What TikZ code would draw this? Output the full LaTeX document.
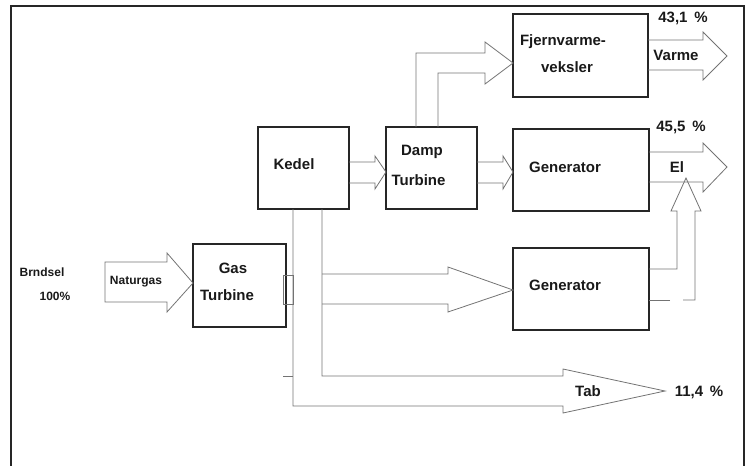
\documentclass[tikz,border=0pt]{standalone}
\usepackage{fontspec}
\setmainfont{Liberation Sans}
\usetikzlibrary{positioning,calc}
\tikzset{
  blok/.style={draw=black!85, line width=1.2pt, inner sep=0pt, outer sep=0pt},
  pil/.style={draw=black!55, line width=0.8pt, line join=miter},
  tekst/.style={inner sep=0pt, text=black!90, font=\fontsize{15}{18}\selectfont\bfseries},
  lille/.style={inner sep=0pt, text=black!90, font=\fontsize{12}{14}\selectfont\bfseries},
}

\begin{document}
\begin{tikzpicture}[x=1pt,y=-1pt]
        \useasboundingbox (0,0) rectangle (748,466);
        % Frame
        \draw[line width=2.4pt, black!85] (11,470) -- (11,6) -- (744,6) -- (744,470);
        % Define the boxes
        \node[blok, minimum width=93pt, minimum height=83pt] (gas) at (239.5,285.5) {};
        \node[blok, minimum width=91pt, minimum height=82pt] (kedel) at (303.5,168) {};
        \node[blok, minimum width=91pt, minimum height=82pt] (damp) at (431.5,168) {};
        \node[blok, minimum width=136pt, minimum height=82pt] (gen1) at (581,170) {};
        \node[blok, minimum width=136pt, minimum height=82pt] (gen2) at (581,289) {};
        \node[blok, minimum width=135pt, minimum height=83pt] (fjern) at (580.5,55.5) {};
        % Labels in the boxes
        \node[tekst] (gasA) at (233,268) {Gas};
        \node[tekst] (gasB) at (227,295) {Turbine};
        \node[tekst] (kedelT) at (294,164) {Kedel};
        \node[tekst] (dampA) at (422,152) {Damp};
        \node[tekst] (dampB) at (418.5,180) {Turbine};
        \node[tekst] (gen1T) at (565,167) {Generator};
        \node[tekst] (gen2T) at (565,285) {Generator};
        \node[tekst] (fjernA) at (563,42) {Fjernvarme-};
        \node[tekst] (fjernB) at (567,67) {veksler};
        % Labels outside
        \node[lille] (brnd) at (42,272) {Brndsel};
        \node[lille] (hundred) at (55,296) {100\%};
        \node[lille] (natur) at (136,282) {Naturgas};
        \node[tekst] (varme) at (676,55) {Varme};
        \node[tekst] (pct1) at (683,18) {43,1\hspace{0.45em}\%};
        \node[tekst] (el) at (677,167) {El};
        \node[tekst] (pct2) at (681,127) {45,5\hspace{0.45em}\%};
        \node[tekst] (tab) at (588,391) {Tab};
        \node[tekst] (pct3) at (699,392) {11,4\hspace{0.45em}\%};
        % Naturgas into the gas turbine
        \draw[pil] (105,262) -- (167,262) -- (167,253) -- (gas.west |- 0,283) -- (167,312) -- (167,302) -- (105,302) -- cycle;
        % Kedel to damp turbine, damp turbine to generator
        \draw[pil] (kedel.east |- 0,162) -- (375,162) -- (375,156) -- (damp.west |- 0,172) -- (375,189) -- (375,183) -- (kedel.east |- 0,183);
        \draw[pil] (damp.east |- 0,162) -- (503,162) -- (503,156) -- (gen1.west |- 0,172) -- (503,189) -- (503,183) -- (damp.east |- 0,183);
        % Damp turbine to fjernvarme
        \draw[pil] (damp.north -| 416,0) -- (416,53) -- (485,53) -- (485,42) -- (fjern.west |- 0,63) -- (485,84) -- (485,73) -- (438,73) -- (damp.north -| 438,0);
        % Outputs
        \draw[pil] (fjern.east |- 0,40) -- (703,40) -- (703,32) -- (727,56) -- (703,80) -- (703,70) -- (fjern.east |- 0,70);
        \draw[pil] (gen1.east |- 0,152) -- (703,152) -- (703,143) -- (727,167) -- (703,192) -- (703,182) -- (gen1.east |- 0,182);
        \draw[pil] (gen2.east |- 0,269) -- (677,269) -- (677,211) -- (671,211) -- (686,178) -- (701,211) -- (695,211) -- (695,300) -- (683,300);
        \draw[pil] (670,300) -- (gen2.east |- 0,300);
        % Kedel pipe down to tab
        \draw[pil] (kedel.south -| 293,0) -- (293,406) -- (563,406) -- (563,413) -- (665,391) -- (563,369) -- (563,376) -- (322,376) -- (kedel.south -| 322,0);
        \draw[pil] (322,274) -- (448,274) -- (448,267) -- (gen2.west |- 0,290) -- (448,312) -- (448,304) -- (322,304);
        % Gas turbine outlet
        \draw[pil] (283,275) rectangle (293,304);
        \draw[pil] (283,376) -- (293,376);
\end{tikzpicture}
\end{document}
